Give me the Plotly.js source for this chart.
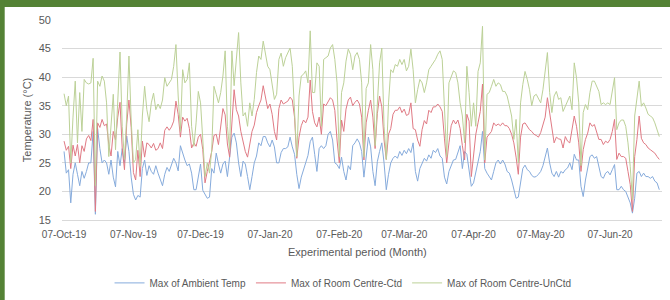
<!DOCTYPE html>
<html>
<head>
<meta charset="utf-8">
<script src="https://cdn.plot.ly/plotly-3.0.1.min.js"></script>
<style>
html,body{margin:0;padding:0;background:#fff;}
#chart{width:670px;height:300px;}
</style>
</head>
<body>
<div id="chart"></div>
<script>
// first day of the daily series
const startDate = '2019-10-07';

const tickDates = ['2019-10-07','2019-11-07','2019-12-07','2020-01-07','2020-02-07','2020-03-07','2020-04-07','2020-05-07','2020-06-07'];
const tickLabels = ['07-Oct-19','07-Nov-19','07-Dec-19','07-Jan-20','07-Feb-20','07-Mar-20','07-Apr-20','07-May-20','07-Jun-20'];

const seriesNames = ['Max of Ambient Temp','Max of Room Centre-Ctd','Max of Room Centre-UnCtd'];
const xTitle = 'Experimental period (Month)';
const yTitle = 'Temperature (°C)';

// Max of Ambient Temp (daily, from 07-Oct-19)
const ambient = [
27.0,23.2,23.8,18.0,23.0,25.0,23.0,21.0,23.5,22.3,
23.5,25.0,25.0,30.5,16.0,31.0,27.5,25.0,25.5,25.0,
23.0,25.5,22.5,20.8,27.0,24.5,27.5,25.0,29.7,27.0,
22.5,19.5,18.5,19.3,19.0,24.0,25.5,22.8,24.5,23.5,
23.0,24.5,23.2,22.0,21.0,23.0,24.2,23.5,24.5,25.8,
25.0,23.6,28.0,26.5,25.5,24.5,24.8,23.2,20.3,20.3,
23.0,24.8,20.2,19.6,18.8,19.0,24.0,23.2,26.7,24.8,
23.2,24.8,25.3,22.6,26.0,29.5,30.2,28.5,25.0,22.6,
25.3,24.8,22.6,20.3,22.6,25.0,26.2,28.5,28.0,29.6,
29.6,28.5,27.8,29.0,27.8,25.0,25.0,26.8,27.5,27.5,
27.8,29.5,27.8,26.5,23.0,20.5,22.5,23.8,25.0,26.3,
28.7,29.5,26.5,23.5,27.5,28.0,27.5,28.0,30.0,30.5,
29.0,25.0,24.7,24.0,26.0,23.5,22.0,24.5,23.8,28.0,
28.5,29.2,28.5,27.0,22.5,26.5,29.5,27.8,23.5,21.0,
25.2,27.0,28.5,25.0,20.3,23.0,25.0,25.8,26.2,25.8,
27.0,26.3,27.2,26.6,27.5,26.8,28.5,23.5,21.8,24.0,
25.0,25.8,25.3,26.4,25.8,27.2,26.8,27.5,26.2,25.8,
22.5,21.3,23.5,24.5,25.5,25.6,27.0,28.0,24.0,27.0,
26.5,23.5,20.9,21.5,23.5,25.0,27.0,30.5,24.0,23.2,
22.6,22.0,23.5,25.0,25.5,24.8,25.5,24.8,23.5,23.2,
22.0,20.5,18.8,19.0,21.5,24.0,24.6,23.8,23.5,22.8,
22.5,22.6,23.0,23.5,24.5,26.0,27.6,25.0,23.2,22.6,
23.5,22.5,23.5,23.2,23.8,24.1,25.0,23.8,26.5,25.5,
25.5,20.9,19.1,22.0,24.4,26.1,26.4,25.8,26.1,24.4,
22.6,22.3,23.2,23.5,22.9,23.8,24.7,20.3,20.3,20.9,
20.3,20.0,19.1,18.0,16.2,18.8,23.2,23.5,22.6,23.2,
22.6,22.6,22.3,22.6,21.8,21.5,20.3
];

// Max of Room Centre-Ctd
const roomCtd = [
28.8,27.2,27.9,24.0,28.1,26.2,28.2,25.0,28.0,27.0,
29.2,29.8,28.9,32.6,16.5,32.0,31.2,32.6,31.5,31.8,
28.2,26.2,30.5,29.0,33.0,35.6,27.5,23.8,31.8,36.0,
31.2,23.3,22.0,27.2,22.6,28.8,26.0,28.5,28.2,27.6,
28.4,27.2,27.5,28.5,27.5,30.7,31.3,30.7,31.3,32.3,
35.8,33.5,29.5,33.0,32.3,32.8,31.0,27.6,28.5,27.9,
29.5,30.0,27.3,21.5,23.5,25.5,27.0,29.8,30.0,28.2,
31.0,34.5,33.4,28.3,26.0,33.0,37.8,34.3,33.2,30.5,
28.5,27.0,26.0,28.2,30.5,31.6,33.8,35.0,36.0,38.5,
36.5,34.5,35.3,33.5,30.5,29.0,34.5,36.0,35.3,35.5,
35.8,36.5,36.0,33.0,25.8,29.5,31.5,32.5,32.0,33.0,
39.5,34.0,32.0,31.3,33.0,30.0,35.3,35.0,35.8,36.4,
36.0,34.2,29.0,25.0,32.5,30.5,34.4,36.0,36.5,35.0,
35.6,36.0,35.3,33.0,25.5,32.0,34.2,36.0,33.0,27.5,
33.6,36.7,34.8,29.0,25.6,30.0,31.0,33.5,34.2,34.2,
34.8,33.8,34.4,33.3,33.5,35.5,31.0,30.8,29.0,27.9,
30.8,32.4,31.8,34.2,33.8,34.8,34.8,35.3,34.8,34.0,
29.2,25.0,28.5,31.5,32.5,31.8,32.5,31.0,28.0,25.5,
33.5,32.3,22.6,26.5,30.0,32.0,34.0,38.8,25.0,29.5,
30.0,30.5,32.0,31.5,31.8,31.5,32.0,31.5,31.5,31.0,
30.0,28.5,26.0,23.0,29.5,31.8,32.0,31.4,30.8,30.5,
30.0,29.8,29.5,30.3,31.5,33.0,36.4,33.5,30.5,28.5,
29.5,29.2,29.1,27.6,29.6,28.8,28.5,30.8,33.2,31.4,
28.5,23.5,27.3,29.1,30.2,32.0,31.4,31.7,30.5,29.1,
29.1,28.2,28.8,28.5,29.1,30.5,32.6,25.6,26.7,26.1,
26.1,25.8,23.5,21.2,16.5,26.1,29.1,33.2,29.3,28.5,
28.2,27.6,27.3,27.0,26.7,26.1,25.6
];

// Max of Room Centre-UnCtd
const roomUnCtd = [
37.1,35.0,36.7,25.0,33.0,39.3,28.5,37.3,30.5,39.6,
39.0,38.8,39.0,43.3,21.0,39.3,38.4,40.2,39.3,35.5,
26.1,31.4,37.0,27.3,36.7,44.4,31.4,25.6,33.2,43.7,
32.5,25.0,25.6,30.8,24.4,33.2,38.4,34.3,32.2,35.5,
37.2,34.3,35.3,34.5,36.0,39.9,38.4,39.0,39.6,41.9,
45.7,36.7,30.5,41.3,39.0,39.6,42.5,31.4,27.9,32.0,
37.5,35.5,28.5,22.6,25.0,23.2,27.3,38.4,37.0,35.5,
37.3,40.2,44.6,31.4,27.3,44.6,38.5,44.0,47.8,39.0,
33.2,33.8,31.4,35.5,33.2,36.1,40.8,43.7,43.1,46.3,
44.3,41.9,41.3,39.0,36.1,37.0,43.1,44.2,41.9,43.4,
44.3,45.1,41.9,34.3,26.1,36.7,40.2,40.5,41.1,39.0,
48.1,37.3,37.3,42.5,41.9,31.4,43.1,43.4,43.7,45.1,
45.7,43.1,39.0,26.1,37.3,39.0,42.8,44.9,44.0,41.3,
43.7,44.3,43.1,39.0,26.0,38.0,39.0,45.7,41.3,28.0,
36.7,42.5,45.1,31.4,25.6,35.5,41.3,40.8,42.2,41.9,
43.1,42.2,43.1,41.1,41.9,44.9,41.3,35.5,37.8,39.6,
39.0,37.3,39.0,41.3,41.9,42.5,43.1,44.0,44.6,43.1,
33.2,26.1,39.0,40.2,41.1,40.8,39.0,35.5,33.2,28.5,
41.9,37.3,31.4,35.5,31.4,41.0,42.5,48.9,25.5,37.0,
37.3,38.4,39.6,38.4,39.0,38.7,37.5,37.5,36.7,35.0,
33.2,29.1,32.6,25.0,35.5,38.7,41.0,39.6,37.8,35.0,
36.7,37.0,36.1,35.5,37.8,40.8,44.3,37.3,33.8,36.7,
37.5,36.1,36.4,34.0,34.9,35.5,36.7,34.3,42.5,39.9,
35.5,24.5,33.8,35.2,34.3,37.3,39.3,39.3,38.4,37.5,
35.2,35.5,35.2,35.5,35.2,37.8,39.9,30.8,32.0,32.5,
32.5,31.4,28.5,24.4,18.5,33.2,36.1,39.3,34.9,35.5,
34.6,33.5,33.2,32.9,32.0,30.8,29.6
];

const colors = ['#86abdc', '#e07a84', '#bcd197'];

function buildDates(start, n) {
  const out = [];
  const t0 = Date.parse(start + 'T00:00:00Z');
  for (let i = 0; i < n; i++) {
    out.push(new Date(t0 + i * 86400000).toISOString().slice(0, 10));
  }
  return out;
}
const dates = buildDates(startDate, ambient.length);

const allSeries = [ambient, roomCtd, roomUnCtd];
const traces = allSeries.map((vals, i) => ({
  x: dates,
  y: vals,
  type: 'scatter',
  mode: 'lines',
  name: seriesNames[i],
  line: {color: colors[i], width: 1}
}));

const font = "'Liberation Sans', Arial, sans-serif";
const textColor = '#595959';

const layout = {
  width: 670,
  height: 300,
  margin: {l: 62, r: 8, t: 20, b: 80},
  paper_bgcolor: '#ffffff',
  plot_bgcolor: '#ffffff',
  font: {family: font, size: 10, color: textColor},
  showlegend: true,
  legend: {
    orientation: 'h',
    xref: 'container', yref: 'container',
    x: 0.512, xanchor: 'center',
    y: 0.057, yanchor: 'middle',
    font: {family: font, size: 10, color: textColor},
    itemwidth: 30,
    bgcolor: 'rgba(0,0,0,0)'
  },
  xaxis: {
    type: 'date',
    range: ['2019-10-06 02:00', '2020-06-30 05:00'],
    tickmode: 'array',
    tickvals: tickDates,
    ticktext: tickLabels,
    showgrid: false,
    showline: true,
    linecolor: '#d9d9d9',
    linewidth: 1,
    ticks: '',
    ticklabelstandoff: 5,
    tickfont: {family: font, size: 10, color: textColor},
    zeroline: false,
    automargin: false
  },
  yaxis: {
    range: [15, 50],
    tickmode: 'linear',
    tick0: 15,
    dtick: 5,
    showgrid: true,
    gridcolor: '#d9d9d9',
    gridwidth: 1,
    zeroline: false,
    showline: false,
    ticks: '',
    ticklabelstandoff: 10,
    automargin: false,
    tickfont: {family: font, size: 11, color: textColor},
    title: {text: yTitle, font: {family: font, size: 11, color: textColor}, standoff: 4}
  },
  annotations: [
    {text: xTitle, xref: 'paper', yref: 'paper', x: 0.492, y: -0.16,
     xanchor: 'center', yanchor: 'middle', showarrow: false,
     font: {family: font, size: 11, color: textColor}}
  ],
  shapes: [
    {type: 'rect', xref: 'paper', yref: 'paper', x0: -0.11, x1: 1.02, y0: 1.065, y1: 1.12,
     fillcolor: '#548235', line: {width: 0}, layer: 'below'},
    {type: 'rect', xref: 'paper', yref: 'paper', x0: -0.11, x1: -0.0955, y0: -0.42, y1: 1.12,
     fillcolor: '#548235', line: {width: 0}, layer: 'below'}
  ]
};

Plotly.newPlot('chart', traces, layout, {displayModeBar: false, staticPlot: true});
</script>
</body>
</html>
